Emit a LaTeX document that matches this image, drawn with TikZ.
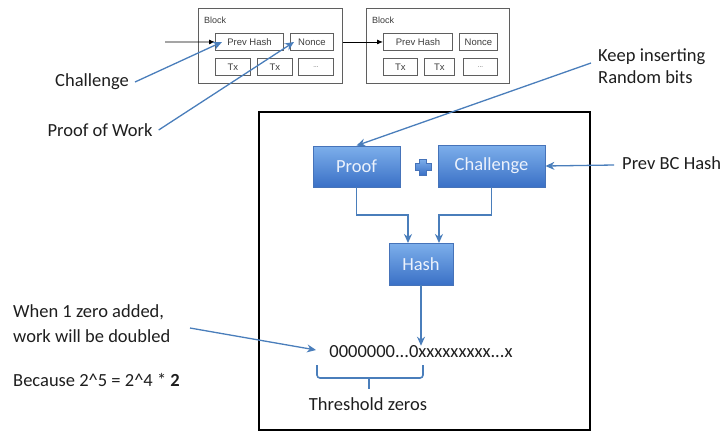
\documentclass[tikz,border=0pt]{standalone}
\usepackage{fontspec}
\setmainfont{Carlito}
\newfontfamily\helv{Liberation Sans}
\usetikzlibrary{arrows.meta}
\definecolor{conn}{RGB}{74,126,187}
\definecolor{blkgray}{RGB}{95,95,95}
\definecolor{celltext}{RGB}{60,60,60}
\definecolor{boxtop}{RGB}{125,175,235}
\definecolor{boxbot}{RGB}{58,112,198}
\definecolor{boxedge}{RGB}{70,115,185}
\definecolor{boxtext}{RGB}{236,242,252}
\definecolor{txt}{RGB}{30,30,30}
\tikzset{
  blk/.style={draw=blkgray, line width=0.9pt, anchor=north west, inner sep=0pt},
  cell/.style={draw=blkgray, line width=0.9pt, anchor=north west, inner sep=0pt,
    minimum height=17pt, text=celltext, font=\helv\fontsize{9.5}{10}\selectfont},
  blklabel/.style={anchor=west, inner sep=0pt, text=celltext, font=\helv\fontsize{9}{10}\selectfont},
  bluebox/.style={draw=boxedge, line width=0.8pt, top color=boxtop, bottom color=boxbot,
    text=boxtext, inner sep=0pt},
  conarrow/.style={draw=conn, line width=1.6pt, -{Stealth[length=9pt,width=8pt]}},
  blackarrow/.style={draw=black, line width=0.8pt, -{Latex[length=6pt,width=5pt]}},
  lbl/.style={text=txt, inner sep=0pt}
}
\begin{document}
\begin{tikzpicture}[x=1pt,y=-1pt, font=\fontsize{18.5}{22}\selectfont]
\useasboundingbox (0,0) rectangle (728,432);

% ---- Block 1 ----
\node[blk, minimum width=144pt, minimum height=75pt] (b1) at (198,8) {};
\node[blklabel] (bl1) at (204,20) {Block};
\node[cell, minimum width=68pt] (ph1) at (215,33) {Prev Hash};
\node[cell, minimum width=43pt] (n1) at (290,33) {Nonce};
\node[cell, minimum width=35pt] (t11) at (215,58) {Tx};
\node[cell, minimum width=35pt] (t12) at (257,58) {Tx};
\node[cell, minimum width=35pt] (t13) at (298,58) {\fontsize{6}{6}\selectfont ...};

% ---- Block 2 ----
\node[blk, minimum width=143pt, minimum height=75pt] (b2) at (366,8) {};
\node[blklabel] (bl2) at (372,20) {Block};
\node[cell, minimum width=69pt] (ph2) at (383,33) {Prev Hash};
\node[cell, minimum width=38pt] (n2) at (459,33) {Nonce};
\node[cell, minimum width=34pt] (t21) at (383,58) {Tx};
\node[cell, minimum width=30pt] (t22) at (424,58) {Tx};
\node[cell, minimum width=34pt] (t23) at (463,58) {\fontsize{6}{6}\selectfont ...};

\coordinate (in1) at (165,42);
\draw[blackarrow] (in1) -- (ph1.west);
\draw[blackarrow] (b1.east |- ph2.west) -- (ph2.west);

% ---- Frame ----
\draw[black, line width=1.5pt] (259,112) rectangle (590,430);

% ---- Blue boxes ----
\node[bluebox, minimum width=87pt, minimum height=41pt] (proof) at (356.5,166.5) {Proof};
\node[bluebox, minimum width=107pt, minimum height=42pt] (chal) at (491.5,166) {Challenge};
\node[bluebox, minimum width=64pt, minimum height=42pt] (hash) at (421,264) {Hash};

% plus sign
\path[draw=boxedge, line width=0.5pt, top color=boxtop, bottom color=boxbot]
  (419.5,159) -- (426.5,159) -- (426.5,163.5) -- (431,163.5) -- (431,170.5) -- (426.5,170.5)
  -- (426.5,175) -- (419.5,175) -- (419.5,170.5) -- (415,170.5) -- (415,163.5) -- (419.5,163.5) -- cycle;

% connectors to hash
\draw[conarrow] (proof.south) |- (408,215) -- (408,243);
\draw[conarrow] (chal.south) |- (439,215) -- (439,243);

% result string
\node[lbl] (bits) at (421,352) {0000000...0xxxxxxxxx...x};
\draw[conarrow] (hash.south) -- (hash.south |- bits.north);

% brace
\draw[conn, line width=1.6pt, rounded corners=3pt]
  (317,365) -- (317,378) -- (423,378) -- (423,365);
\draw[conn, line width=1.6pt] (369,378) -- (369,389);
\node[lbl] (thr) at (368,404) {Threshold zeros};

% ---- Labels ----
\node[lbl] (chl) at (92,82) {Challenge};
\node[lbl] (pow) at (100,130) {Proof of Work};
\node[lbl, anchor=west, align=left] (keep) at (598,66) {Keep inserting\\Random bits};
\node[lbl, anchor=west] (prevbc) at (622,163) {Prev BC Hash};
\node[lbl, anchor=west, align=left, font=\fontsize{18.5}{25}\selectfont] (when) at (13,324) {When 1 zero added,\\work will be doubled};
\node[lbl, anchor=west] (bec) at (13,380) {Because 2\^{}5 = 2\^{}4 * \textbf{2}};

\coordinate (chtip) at (222,42);
\coordinate (powtip) at (294,42);
\coordinate (keepstart) at (591,63);
\coordinate (whenstart) at (190,328);
\coordinate (bitstip) at (316,350);

\draw[conarrow, line width=1.3pt] (chl.east) ++(6,0) -- (chtip);
\draw[conarrow, line width=1.3pt] (pow.east) ++(6,0) -- (powtip);
\draw[conarrow, line width=1.3pt] (keepstart) -- (proof.north);
\draw[conarrow, line width=1.3pt] (prevbc.west) ++(-8,2) -- (chal.east);
\draw[conarrow, line width=1.3pt] (whenstart) -- (bitstip);
\end{tikzpicture}
\end{document}
